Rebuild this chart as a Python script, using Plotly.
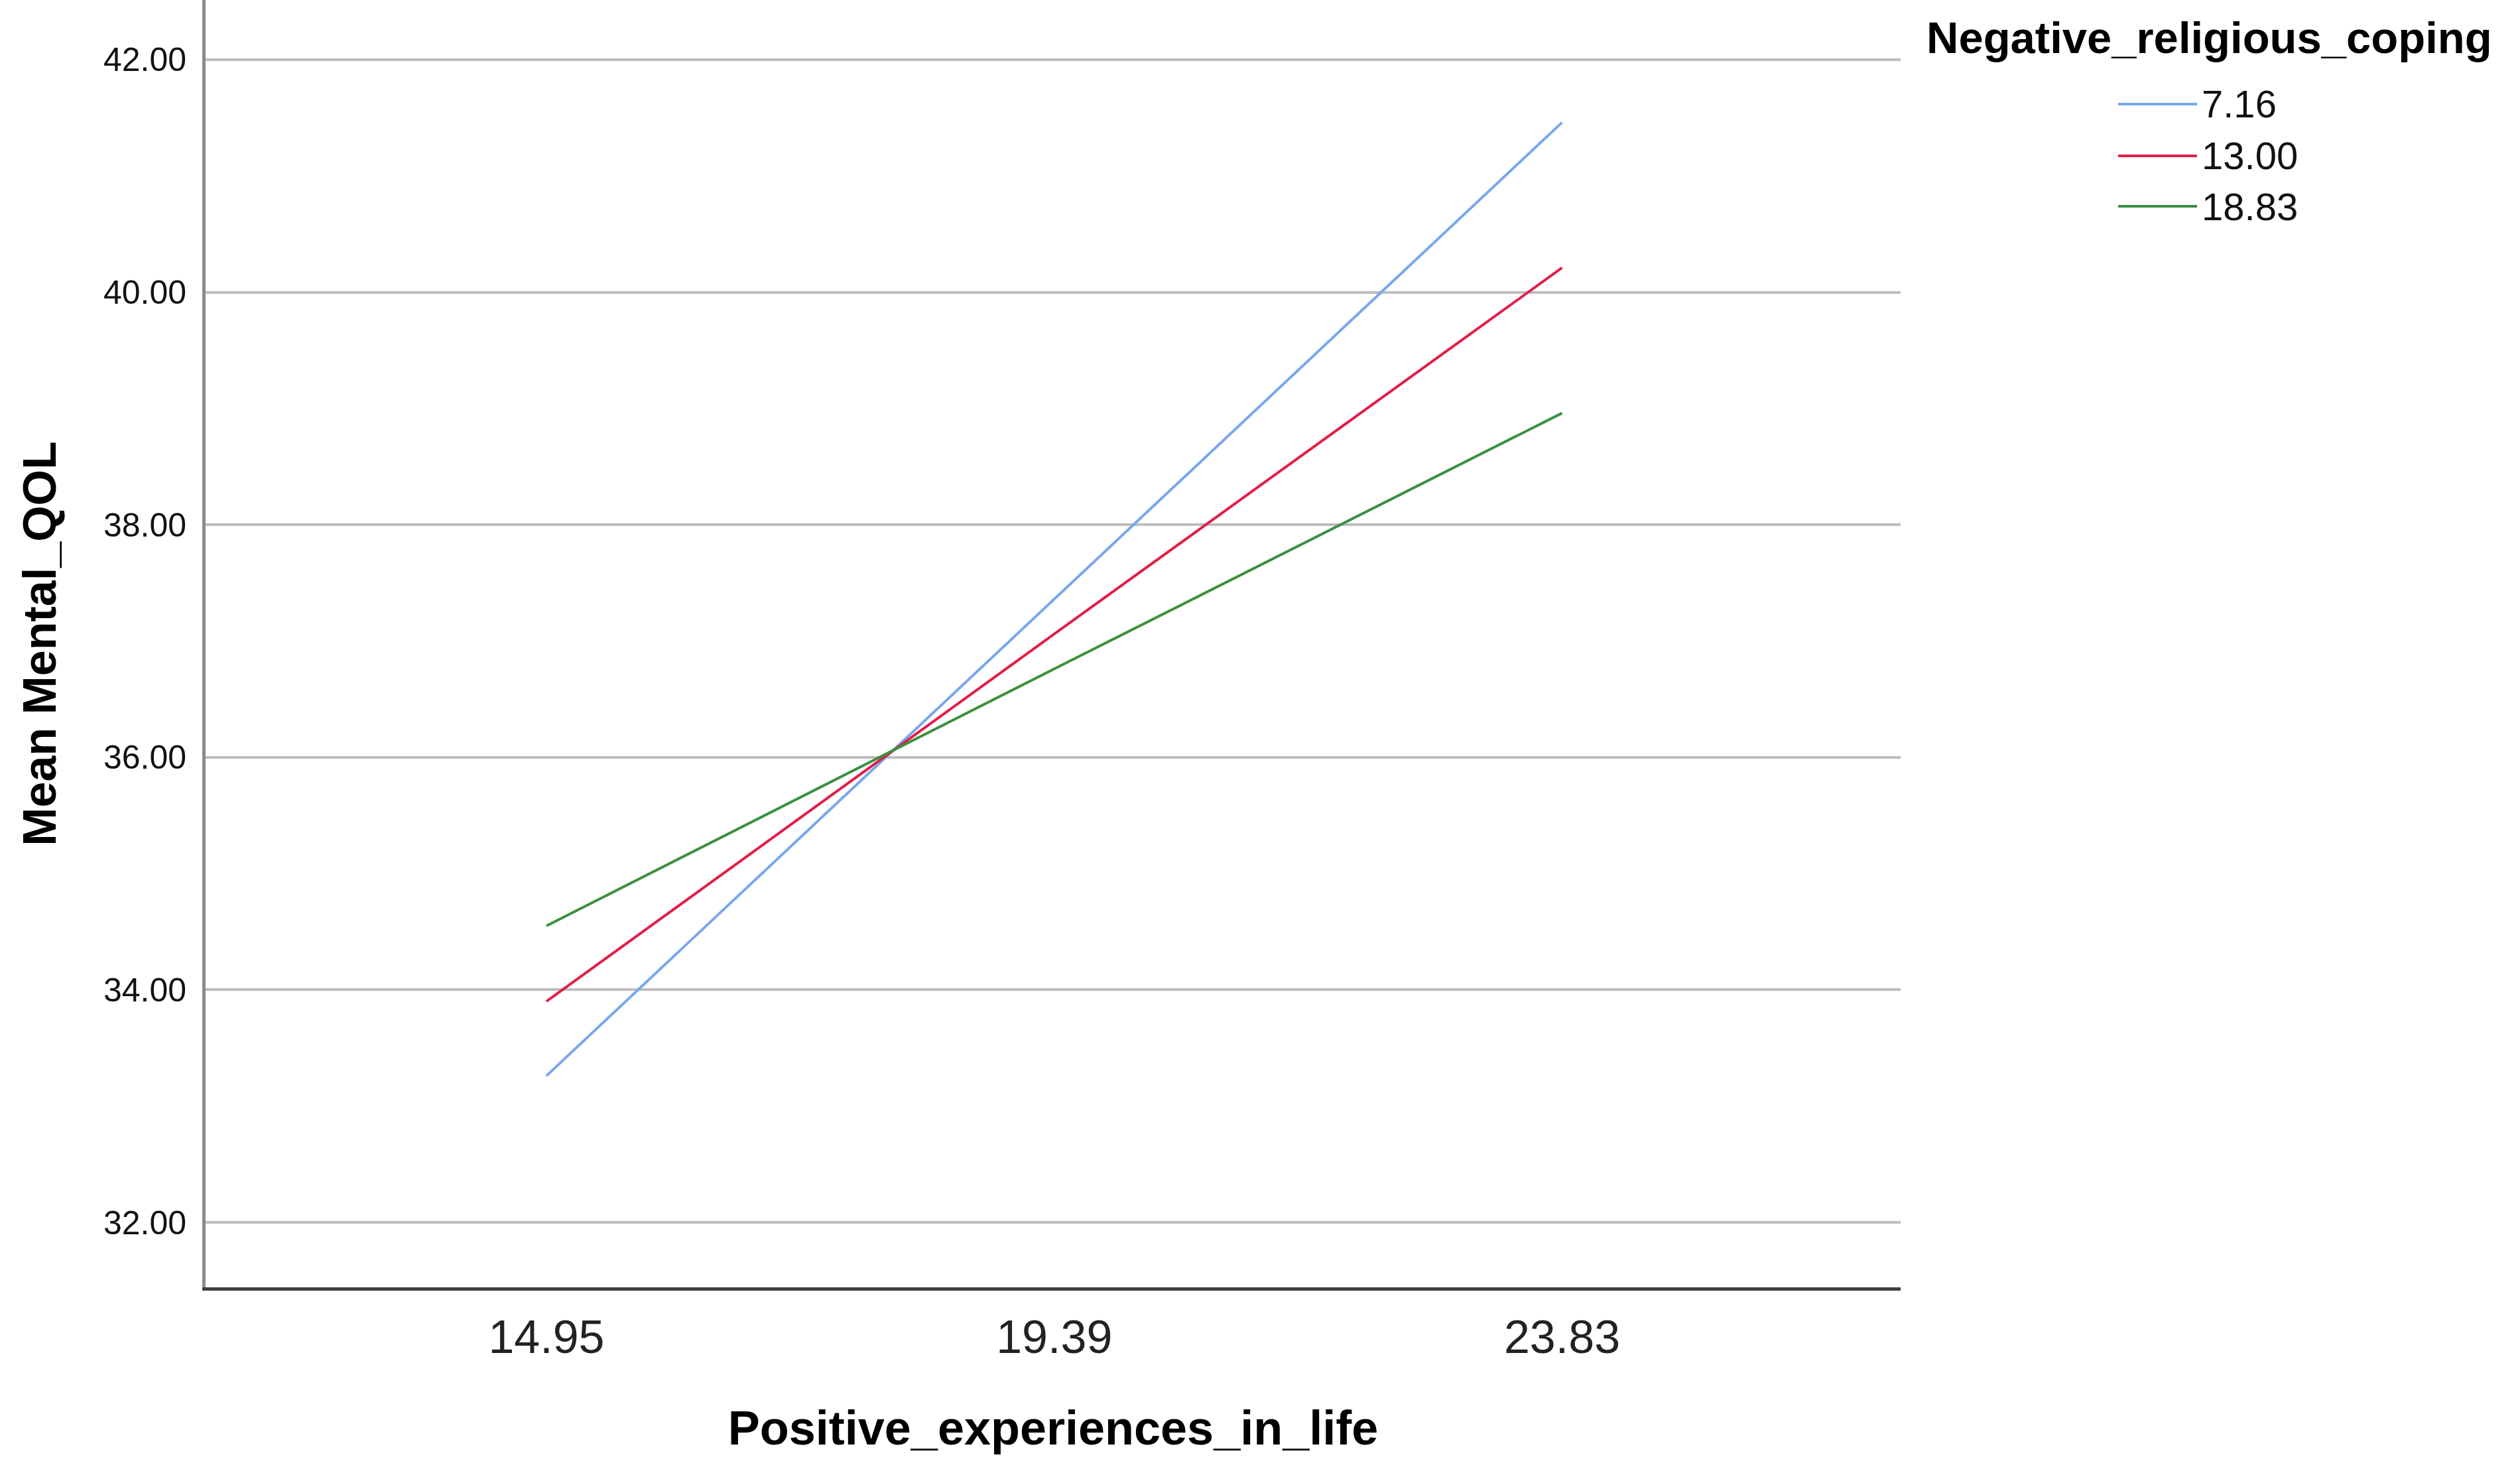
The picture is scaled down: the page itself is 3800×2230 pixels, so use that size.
import plotly.graph_objects as go

# Data
x_values = [14.95, 19.39, 23.83]
x_tick_labels = ["14.95", "19.39", "23.83"]
series_names = ["7.16", "13.00", "18.83"]
blue_values = [33.26, 37.36, 41.46]
red_values = [33.90, 37.06, 40.21]
green_values = [34.55, 36.76, 38.96]
series_colors = ["#79A7EC", "#E01E48", "#3D8F3D"]
y_tick_values = [32, 34, 36, 38, 40, 42]
y_tick_labels = ["32.00", "34.00", "36.00", "38.00", "40.00", "42.00"]

all_series = [blue_values, red_values, green_values]

W, H = 3800, 2230
PL, PR, PT, PB = 310, 2866, 0, 1941  # plot area in pixels


def px_to_paper(xp, yp):
    return (xp - PL) / (PR - PL), (PB - yp) / (PB - PT)


fig = go.Figure()
for name, vals, col in zip(series_names, all_series, series_colors):
    fig.add_trace(go.Scatter(x=x_values, y=vals, mode="lines", name=name,
                             line=dict(color=col, width=4), showlegend=False))

font_family = "Liberation Sans, Arial, sans-serif"

# Manual legend (long line samples like the original)
legend_rows_px = [157, 235, 311]
shapes = []
annotations = []
for name, col, ypx in zip(series_names, series_colors, legend_rows_px):
    x0, yy = px_to_paper(3194, ypx)
    x1, _ = px_to_paper(3313, ypx)
    shapes.append(dict(type="line", xref="paper", yref="paper",
                       x0=x0, x1=x1, y0=yy, y1=yy,
                       line=dict(color=col, width=4)))
    tx, _ = px_to_paper(3318, ypx)
    annotations.append(dict(xref="paper", yref="paper", x=tx, y=yy,
                            text=name, showarrow=False, xanchor="left", yanchor="middle",
                            font=dict(family=font_family, size=58, color="#111111")))
lx, ly = px_to_paper(2903, 56)
annotations.append(dict(xref="paper", yref="paper", x=lx, y=ly,
                        text="<b>Negative_religious_coping</b>", showarrow=False,
                        xanchor="left", yanchor="middle",
                        font=dict(family=font_family, size=67, color="#000000")))

fig.update_layout(
    width=W, height=H,
    paper_bgcolor="white", plot_bgcolor="white",
    margin=dict(l=PL, r=W - PR, t=PT, b=H - PB, autoexpand=False),
    shapes=shapes,
    annotations=annotations,
    showlegend=False,
)
fig.update_xaxes(
    range=[11.97, 26.79], tickvals=x_values, ticktext=x_tick_labels,
    showgrid=False, zeroline=False, showline=True, linecolor="#3F3F3F", linewidth=5,
    ticks="", tickfont=dict(family=font_family, size=70, color="#222222"),
    ticklabelstandoff=10,
    title=dict(text="<b>Positive_experiences_in_life</b>", standoff=75,
               font=dict(family=font_family, size=72, color="#000000")),
    automargin=False,
)
fig.update_yaxes(
    range=[31.441, 42.513], tickvals=y_tick_values, ticktext=y_tick_labels,
    showgrid=True, gridcolor="#BEBEBE", gridwidth=4, zeroline=False,
    showline=True, linecolor="#8C8C8C", linewidth=5,
    ticks="", tickfont=dict(family=font_family, size=50, color="#111111"),
    ticklabelstandoff=14,
    title=dict(text="<b>Mean Mental_QOL</b>", standoff=50,
               font=dict(family=font_family, size=70, color="#000000")),
    automargin=False,
)

fig.write_html("out.html", config={"displayModeBar": False},
               post_script="document.body.style.margin='0';document.body.style.overflow='hidden';")
